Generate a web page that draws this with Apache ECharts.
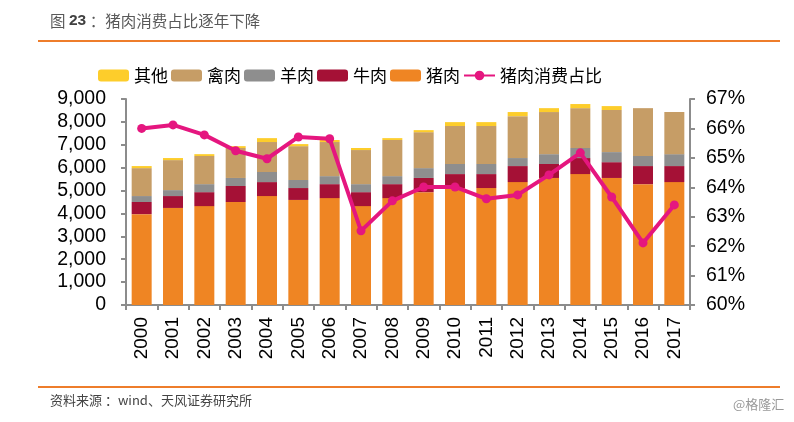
<!DOCTYPE html>
<html>
<head>
<meta charset="utf-8">
<script src="https://cdn.jsdelivr.net/npm/echarts@6/dist/echarts.min.js"></script>
<style>
html,body{margin:0;padding:0;background:#fff;}
#chart{width:794px;height:422px;}
</style>
</head>
<body>
<div id="chart"></div>
<script>
var years = ['2000','2001','2002','2003','2004','2005','2006','2007','2008','2009','2010','2011','2012','2013','2014','2015','2016','2017'];
var pork    = [3970,4240,4320,4500,4760,4590,4670,4320,4670,4930,5110,5110,5370,5550,5720,5550,5280,5370];
var beef    = [530,520,610,700,610,520,610,610,610,620,610,610,700,610,700,690,790,700];
var mutton  = [260,260,350,350,440,350,350,350,350,430,440,440,350,430,440,440,440,520];
var poultry = [1220,1310,1230,1310,1310,1480,1490,1490,1580,1570,1660,1660,1830,1840,1740,1840,2090,1840];
var other   = [90,90,80,80,170,90,90,90,80,90,170,170,180,170,180,170,0,0];
var porkShare = [66.0,66.12,65.78,65.24,64.97,65.71,65.65,62.52,63.54,64.01,64.01,63.61,63.74,64.42,65.17,63.67,62.11,63.40];
var leftTicks = {min:0, max:9000, interval:1000};
var rightTicks = {min:60, max:67, interval:1};

var FONT = '"Liberation Sans", Arial, "Noto Sans CJK SC", sans-serif';
var CJK = '"Noto Sans CJK SC", "Liberation Sans", sans-serif';
var axisColor = '#8c8c8c';

var chart = echarts.init(document.getElementById('chart'), null, {renderer:'canvas'});
function barSeries(name, data, color){
  return {name:name, type:'bar', stack:'total', data:data, barWidth:20,
    itemStyle:{color:color}, emphasis:{disabled:true}};
}
var option = {
  animation:false,
  textStyle:{fontFamily:FONT},
  graphic:[
    {type:'text', left:50, top:13, style:{
      text:'{a|图 }{b|23}{a| ：猪肉消费占比逐年下降}',
      rich:{a:{fontSize:15.5, fill:'#595959', fontFamily:CJK}, b:{fontSize:15.5, fill:'#404040', fontWeight:'bold', fontFamily:FONT}}
    }},
    {type:'rect', shape:{x:38, y:40, width:742, height:2}, style:{fill:'#EE7D2B'}},
    {type:'rect', shape:{x:38, y:386, width:742, height:2}, style:{fill:'#EE7D2B'}},
    {type:'text', left:50, top:394, style:{text:'资料来源 ：wind、天风证券研究所', fontSize:13, fill:'#444', fontFamily:CJK}},
    {type:'text', left:733, top:398, style:{text:'@格隆汇', fontSize:13, fill:'#999', fontFamily:CJK}}
  ],
  legend:{
    left:93, top:62, itemWidth:31, itemHeight:12, itemGap:3,
    textStyle:{fontSize:17, color:'#000', fontFamily:CJK},
    data:['其他','禽肉','羊肉','牛肉','猪肉','猪肉消费占比']
  },
  grid:{left:126, right:104, top:99, bottom:117},
  xAxis:{
    type:'category', data:years,
    axisLine:{lineStyle:{color:axisColor, width:2}},
    axisTick:{show:true, length:5, lineStyle:{color:axisColor, width:2}},
    axisLabel:{rotate:90, fontSize:19, color:'#000', margin:12, fontFamily:FONT}
  },
  yAxis:[
    {type:'value', min:leftTicks.min, max:leftTicks.max, interval:leftTicks.interval,
      axisLine:{show:true, lineStyle:{color:axisColor, width:2}},
      axisTick:{show:true, length:5, lineStyle:{color:axisColor, width:2}},
      splitLine:{show:false},
      axisLabel:{fontSize:19.5, color:'#000', margin:20, fontFamily:FONT,
        formatter:function(v){return v.toLocaleString('en-US');}}
    },
    {type:'value', min:rightTicks.min, max:rightTicks.max, interval:rightTicks.interval,
      axisLine:{show:true, lineStyle:{color:axisColor, width:2}},
      axisTick:{show:true, length:5, lineStyle:{color:axisColor, width:2}},
      splitLine:{show:false},
      axisLabel:{fontSize:19.5, color:'#000', margin:16, fontFamily:FONT, formatter:'{value}%'}
    }
  ],
  series:[
    barSeries('猪肉', pork, '#EF8523'),
    barSeries('牛肉', beef, '#A51136'),
    barSeries('羊肉', mutton, '#8E8E8E'),
    barSeries('禽肉', poultry, '#C69D66'),
    barSeries('其他', other, '#FDCD2B'),
    {name:'猪肉消费占比', type:'line', yAxisIndex:1, data:porkShare,
      symbol:'circle', symbolSize:9, lineStyle:{color:'#E5167F', width:4},
      itemStyle:{color:'#E5167F'}, emphasis:{disabled:true}, z:5}
  ]
};
chart.setOption(option);
</script>
</body>
</html>
